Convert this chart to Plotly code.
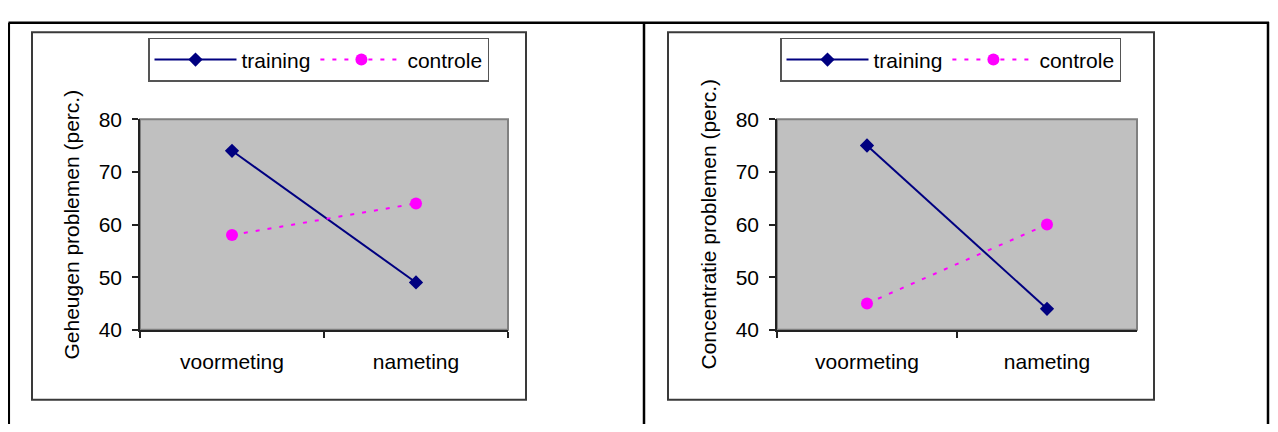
import plotly.graph_objects as go

categories = ["voormeting", "nameting"]
geheugen_training = [74, 49]
geheugen_controle = [58, 64]
concentratie_training = [75, 44]
concentratie_controle = [45, 60]
series_names = ["training", "controle"]
y_titles = ["Geheugen problemen (perc.)", "Concentratie problemen (perc.)"]

# page has an 8px body margin; keep the figure inside the 1278x432 window
OFF = 8
W, H = 1278 - OFF, 432 - 2 * OFF
FONT = "Liberation Sans, Arial, sans-serif"
FS = 21


def px(x):
    return (x - OFF) / W


def py(y):
    return 1 - (y - OFF) / H


NAVY = "#000080"
MAGENTA = "#FF00FF"

fig = go.Figure()

panels = [
    dict(tr=geheugen_training, co=geheugen_controle, xa="x", ya="y", leg="legend",
         plot=(140, 508, 113, 336), title_x=72, box=(32, 526, 21, 410), legpos=(148, 27)),
    dict(tr=concentratie_training, co=concentratie_controle, xa="x2", ya="y2", leg="legend2",
         plot=(777, 1137, 113, 336), title_x=709, box=(668, 1154, 21, 410), legpos=(780, 27)),
]

shapes = []
annotations = []
layout_axes = {}

for i, p in enumerate(panels):
    fig.add_trace(go.Scatter(
        x=categories, y=p["tr"], name=series_names[0], mode="lines+markers",
        line=dict(color=NAVY, width=2),
        marker=dict(symbol="diamond", size=11, color=NAVY),
        xaxis=p["xa"], yaxis=p["ya"], legend=p["leg"]))
    fig.add_trace(go.Scatter(
        x=categories, y=p["co"], name=series_names[1], mode="lines+markers",
        line=dict(color=MAGENTA, width=2, dash="4px,8px"),
        marker=dict(symbol="circle", size=12, color=MAGENTA),
        xaxis=p["xa"], yaxis=p["ya"], legend=p["leg"]))

    x0, x1, y0, y1 = p["plot"]
    sfx = "" if i == 0 else "2"
    layout_axes["xaxis" + sfx] = dict(
        domain=[px(x0), px(x1)], type="category", range=[-0.5, 1.5],
        tickson="boundaries", ticks="outside", ticklen=6, tickwidth=1.5, tickcolor="#222",
        showline=True, linecolor="#222", linewidth=1.5, showgrid=False, zeroline=False,
        tickfont=dict(family=FONT, size=FS, color="black"), ticklabelstandoff=12,
        anchor="y" + sfx, fixedrange=True)
    layout_axes["yaxis" + sfx] = dict(
        domain=[py(y1), py(y0)], range=[40, 80], dtick=10, tick0=40,
        ticks="outside", ticklen=6, tickwidth=1.5, tickcolor="#222",
        showline=True, linecolor="#222", linewidth=1.5, showgrid=False, zeroline=False,
        tickfont=dict(family=FONT, size=FS, color="black"), ticklabelstandoff=6,
        anchor="x" + sfx, fixedrange=True)

    # plot area border (grey top/right)
    shapes.append(dict(type="rect", xref="paper", yref="paper", layer="below",
                       x0=px(x0), x1=px(x1), y0=py(y1), y1=py(y0),
                       line=dict(color="#808080", width=2)))
    # chart border
    bx0, bx1, by0, by1 = p["box"]
    shapes.append(dict(type="rect", xref="paper", yref="paper", layer="below",
                       x0=px(bx0), x1=px(bx1), y0=py(by1), y1=py(by0),
                       line=dict(color="#3a3a3a", width=2)))
    annotations.append(dict(xref="paper", yref="paper", x=px(p["title_x"]), y=py((y0 + y1) / 2),
                            text=y_titles[i], textangle=-90, showarrow=False,
                            font=dict(family=FONT, size=FS, color="black"),
                            xanchor="center", yanchor="middle"))
    lx, ly = p["legpos"]
    layout_axes[p["leg"]] = dict(
        x=px(lx), y=py(ly), xanchor="left", yanchor="top", orientation="h",
        bgcolor="white", bordercolor="#555", borderwidth=1.5,
        font=dict(family=FONT, size=FS, color="black"), itemwidth=82,
        tracegroupgap=0, itemclick=False, itemdoubleclick=False)

# outer table borders
for (xa, ya, xb, yb) in [(8.5, 11, 1269, 11), (8.8, 11, 8.8, 440), (644, 11, 644, 440), (1268, 10, 1268, 440)]:
    shapes.append(dict(type="line", xref="paper", yref="paper", layer="above",
                       x0=px(xa), y0=py(ya), x1=px(xb), y1=py(yb),
                       line=dict(color="black", width=2.5)))

fig.update_layout(
    width=W, height=H, margin=dict(l=0, r=0, t=0, b=0),
    paper_bgcolor="white", plot_bgcolor="#C0C0C0",
    shapes=shapes, annotations=annotations, showlegend=True,
    font=dict(family=FONT, size=FS, color="black"),
    **layout_axes)

fig.write_html("out.html", config={"displayModeBar": False})
